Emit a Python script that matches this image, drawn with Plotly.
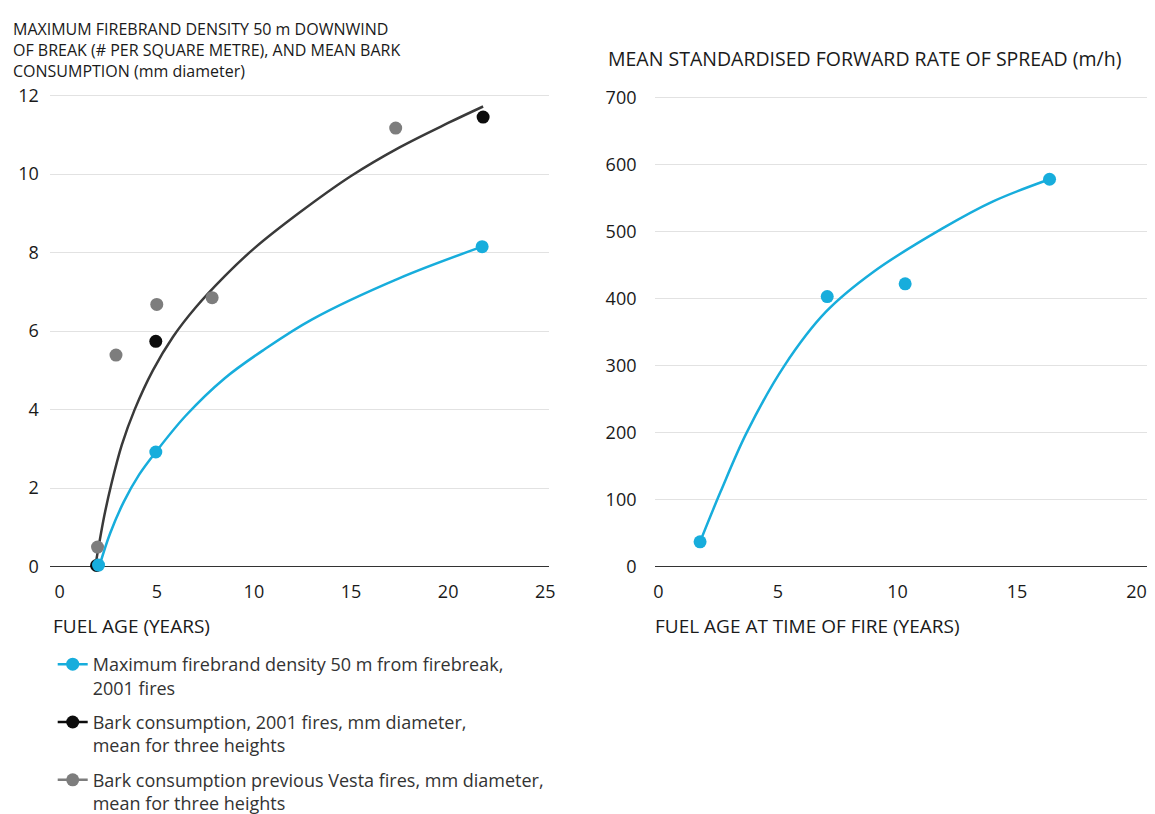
import plotly.graph_objects as go

W, H = 1155, 814

# ---------------- Left panel data ----------------
cyan_x = [2.0, 4.95, 21.75]
cyan_y = [0.04, 2.92, 8.15]
black_x = [1.9, 4.95, 21.8]
black_y = [0.03, 5.74, 11.45]
gray_x = [1.95, 2.9, 5.0, 7.85, 17.3]
gray_y = [0.5, 5.39, 6.68, 6.85, 11.17]

# fitted trend curves
cyan_fit_x = [2.06, 2.6, 3.3, 4.1, 4.95, 6.5, 8.5, 10.5, 13.0, 17.5, 21.75]
cyan_fit_y = [0.04, 0.85, 1.65, 2.35, 2.92, 3.85, 4.8, 5.52, 6.3, 7.35, 8.15]
black_fit_x = [1.89, 2.3, 2.66, 3.2, 3.86, 4.8, 5.83, 7.0, 8.5, 10.0, 12.3, 15.0, 17.5, 20.0, 21.8]
black_fit_y = [0.17, 1.3, 2.1, 3.1, 4.0, 5.0, 5.85, 6.6, 7.4, 8.1, 9.0, 9.95, 10.68, 11.3, 11.72]

left_xticks = [0, 5, 10, 15, 20, 25]
left_yticks = [0, 2, 4, 6, 8, 10, 12]

# ---------------- Right panel data ----------------
ros_x = [1.74, 7.06, 10.32, 16.36]
ros_y = [37, 403, 422, 578]
ros_fit_x = [1.74, 2.6, 3.69, 5.27, 7.0, 9.0, 11.9, 14.0, 16.36]
ros_fit_y = [37, 112, 200, 300, 380, 440, 505, 545, 578]

right_xticks = [0, 5, 10, 15, 20]
right_yticks = [0, 100, 200, 300, 400, 500, 600, 700]

# ---------------- Labels ----------------
left_title = ["MAXIMUM FIREBRAND DENSITY 50 m DOWNWIND",
              "OF BREAK (# PER SQUARE METRE), AND MEAN BARK",
              "CONSUMPTION (mm diameter)"]
right_title = "MEAN STANDARDISED FORWARD RATE OF SPREAD (m/h)"
left_xtitle = "FUEL AGE (YEARS)"
right_xtitle = "FUEL AGE AT TIME OF FIRE (YEARS)"
legend_names = ["Maximum firebrand density 50 m from firebreak,<br>2001 fires",
                "Bark consumption, 2001 fires, mm diameter,<br>mean for three heights",
                "Bark consumption previous Vesta fires, mm diameter,<br>mean for three heights"]

CYAN = "#17addc"
DARK = "#3a3a3a"
BLACK = "#0c0c0c"
GRAY = "#7d7d7d"
FONT = "Open Sans"
TXT = "#1a1a1a"

fig = go.Figure()

fig.add_trace(go.Scatter(x=black_fit_x, y=black_fit_y, mode="lines",
                         line=dict(color=DARK, width=2.5, shape="spline", smoothing=1),
                         showlegend=False, hoverinfo="skip", xaxis="x", yaxis="y"))
fig.add_trace(go.Scatter(x=cyan_fit_x, y=cyan_fit_y, mode="lines",
                         line=dict(color=CYAN, width=2.5, shape="spline", smoothing=1),
                         showlegend=False, hoverinfo="skip", xaxis="x", yaxis="y"))
fig.add_trace(go.Scatter(x=gray_x, y=gray_y, mode="markers",
                         marker=dict(color=GRAY, size=13),
                         showlegend=False, cliponaxis=False, xaxis="x", yaxis="y"))
fig.add_trace(go.Scatter(x=black_x, y=black_y, mode="markers",
                         marker=dict(color=BLACK, size=13),
                         showlegend=False, cliponaxis=False, xaxis="x", yaxis="y"))
fig.add_trace(go.Scatter(x=cyan_x, y=cyan_y, mode="markers",
                         marker=dict(color=CYAN, size=13),
                         showlegend=False, cliponaxis=False, xaxis="x", yaxis="y"))

fig.add_trace(go.Scatter(x=ros_fit_x, y=ros_fit_y, mode="lines",
                         line=dict(color=CYAN, width=2.5, shape="spline", smoothing=1),
                         showlegend=False, hoverinfo="skip", xaxis="x2", yaxis="y2"))
fig.add_trace(go.Scatter(x=ros_x, y=ros_y, mode="markers",
                         marker=dict(color=CYAN, size=13),
                         showlegend=False, cliponaxis=False, xaxis="x2", yaxis="y2"))

for name, col, g in zip(legend_names, [CYAN, BLACK, GRAY], ["a", "b", "c"]):
    fig.add_trace(go.Scatter(x=[None], y=[None], mode="lines+markers", name=name,
                             legendgroup=g,
                             line=dict(color=col, width=2.5),
                             marker=dict(color=col, size=13),
                             xaxis="x", yaxis="y"))


# layout positions in figure pixels
def px(x):
    return x / W


def py(y):
    return 1 - y / H


axis_common = dict(showline=False, ticks="", tickfont=dict(family=FONT, size=18, color=TXT))

# left panel: x=0 at 50px, 19.56 px/unit ; y=0 at 561px, y=12 at 81px
L_dom = (40, 543)
L_x0, L_xs = 50, 19.56
V_dom = (76, 566)
L_y0, L_ys = 561, 40.0
L_xr = [(L_dom[0] - L_x0) / L_xs, (L_dom[1] - L_x0) / L_xs]
L_yr = [-(V_dom[1] - L_y0) / L_ys, (L_y0 - V_dom[0]) / L_ys]
# right panel: x=0 at 653px, 24.07 px/unit ; y=0 at 561px, 700 at 83px
R_dom = (650, 1155)
R_x0, R_xs = 653, 24.07
R_ys = (561 - 83) / 700
R_xr = [(R_dom[0] - R_x0) / R_xs, (R_dom[1] - R_x0) / R_xs]
R_yr = [-(V_dom[1] - L_y0) / R_ys, (L_y0 - V_dom[0]) / R_ys]

fig.update_layout(
    width=W, height=H,
    margin=dict(l=0, r=0, t=0, b=0),
    paper_bgcolor="white", plot_bgcolor="white",
    font=dict(family=FONT, color=TXT),
    xaxis=dict(domain=[px(L_dom[0]), px(L_dom[1])], range=L_xr, tickvals=left_xticks,
               showgrid=False, zeroline=False, anchor="y", ticklabelstandoff=7, **axis_common),
    yaxis=dict(domain=[py(V_dom[1]), py(V_dom[0])], range=L_yr, tickvals=left_yticks,
               showgrid=True, gridcolor="#e2e2e2", gridwidth=1,
               zeroline=True, zerolinecolor="#333333", zerolinewidth=1.3,
               anchor="x", ticklabelstandoff=10, **axis_common),
    xaxis2=dict(domain=[px(R_dom[0]), px(R_dom[1])], range=R_xr, tickvals=right_xticks,
                showgrid=False, zeroline=False, anchor="y2", ticklabelstandoff=7, **axis_common),
    yaxis2=dict(domain=[py(V_dom[1]), py(V_dom[0])], range=R_yr, tickvals=right_yticks,
                showgrid=True, gridcolor="#e2e2e2", gridwidth=1,
                zeroline=True, zerolinecolor="#333333", zerolinewidth=1.3,
                anchor="x2", ticklabelstandoff=18, **axis_common),
    legend=dict(x=px(43), y=py(642), xanchor="left", yanchor="top",
                font=dict(family=FONT, size=18, color="#333333"),
                valign="top", tracegroupgap=8, itemwidth=30,
                bgcolor="rgba(0,0,0,0)"),
    showlegend=True,
)

annotations = [
    dict(text="<br>".join(left_title), x=px(1), y=1.0, xref="paper", yref="paper",
         xanchor="left", yanchor="top", align="left", showarrow=False,
         font=dict(family=FONT, size=16, color=TXT)),
    dict(text=right_title, x=px(600), y=py(43), xref="paper", yref="paper",
         xanchor="left", yanchor="middle", showarrow=False,
         font=dict(family=FONT, size=19.5, color=TXT)),
    dict(text=left_xtitle, x=px(41), y=py(621), xref="paper", yref="paper",
         xanchor="left", yanchor="middle", showarrow=False,
         font=dict(family=FONT, size=19, color=TXT)),
    dict(text=right_xtitle, x=px(647), y=py(621), xref="paper", yref="paper",
         xanchor="left", yanchor="middle", showarrow=False,
         font=dict(family=FONT, size=19, color=TXT)),
]
fig.update_layout(annotations=annotations)

fig.write_html("out.html")
